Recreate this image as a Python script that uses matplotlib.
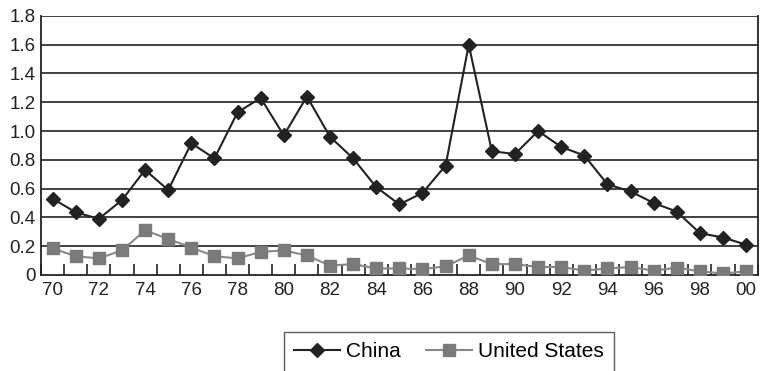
import matplotlib.pyplot as plt
import numpy as np

plt.rcParams['font.family'] = ['Liberation Sans', 'DejaVu Sans']

years = ['70', '71', '72', '73', '74', '75', '76', '77', '78', '79',
         '80', '81', '82', '83', '84', '85', '86', '87', '88', '89',
         '90', '91', '92', '93', '94', '95', '96', '97', '98', '99', '00']
china = [0.53, 0.435, 0.39, 0.52, 0.73, 0.59, 0.915, 0.81, 1.13, 1.23,
         0.97, 1.24, 0.96, 0.81, 0.61, 0.49, 0.57, 0.76, 1.60, 0.86,
         0.84, 1.00, 0.89, 0.83, 0.63, 0.58, 0.50, 0.44, 0.29, 0.26, 0.21]
usa = [0.185, 0.13, 0.115, 0.17, 0.31, 0.25, 0.19, 0.13, 0.115, 0.16,
       0.17, 0.135, 0.065, 0.075, 0.045, 0.045, 0.04, 0.06, 0.135, 0.075,
       0.075, 0.055, 0.055, 0.03, 0.045, 0.055, 0.03, 0.05, 0.025, 0.01, 0.025]

x = np.arange(len(years))

fig = plt.figure(figsize=(7.6, 3.71), dpi=100)
ax = fig.add_axes([0.054, 0.259, 0.943, 0.698])

for y in np.arange(0.2, 1.81, 0.2):
    ax.axhline(y, color='#333333', lw=1.3, zorder=1)

ax.plot(x, china, color='#222222', lw=1.5, marker='D', ms=7,
        markerfacecolor='#222222', markeredgecolor='#222222', label='China', zorder=3)
ax.plot(x, usa, color='#888888', lw=1.5, marker='s', ms=8,
        markerfacecolor='#7a7a7a', markeredgecolor='#7a7a7a', label='United States', zorder=3)

ax.set_xlim(-0.5, len(years) - 0.5)
ax.set_ylim(0, 1.8)
ax.set_yticks(np.arange(0, 1.81, 0.2))
ax.set_yticklabels(['0'] + ['%.1f' % v for v in np.arange(0.2, 1.81, 0.2)])
ax.set_xticks(x[::2])
ax.set_xticklabels(years[::2])
ax.set_xticks(np.arange(-0.5, len(years), 1.0), minor=True)

ax.tick_params(axis='x', which='major', length=0, labelsize=13.5, pad=5, colors='#222222')
ax.tick_params(axis='x', which='minor', direction='in', length=8, width=1.2, color='#222222')
ax.tick_params(axis='y', length=0, labelsize=13.5, pad=4, colors='#222222')

ax.spines['top'].set_visible(False)
for s in ['left', 'right', 'bottom']:
    ax.spines[s].set_color('#222222')
    ax.spines[s].set_linewidth(1.3)

leg = fig.legend(loc='upper center', bbox_to_anchor=(0.591, 0.105), ncol=2,
                 frameon=True, fancybox=False, edgecolor='#333333',
                 fontsize=15, handlelength=2.2, columnspacing=1.2,
                 handletextpad=0.3, borderpad=0.5, borderaxespad=0)
leg.get_frame().set_linewidth(1.0)

fig.savefig('out.png', dpi=100)
